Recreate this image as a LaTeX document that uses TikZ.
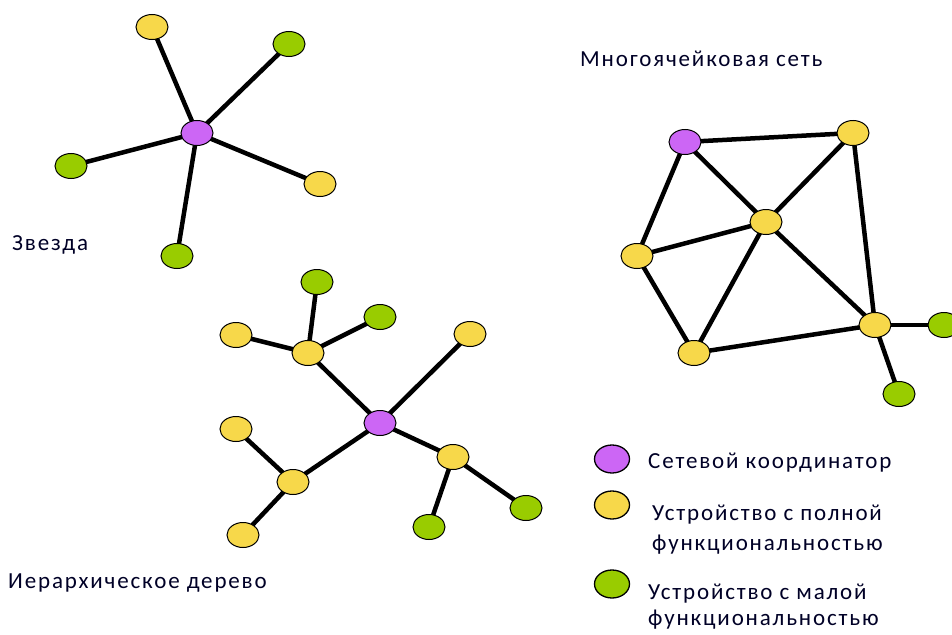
\documentclass[tikz,border=0pt]{standalone}
\usepackage{fontspec}
\setmainfont{Carlito}
\usetikzlibrary{shapes.geometric,backgrounds}
\definecolor{coord}{HTML}{CC66F5}
\definecolor{full}{HTML}{F7D84A}
\definecolor{small}{HTML}{99CC00}
\tikzset{
  dev/.style={ellipse,draw=black,line width=1pt,minimum width=32pt,minimum height=25pt,inner sep=0pt},
  pc/.style={dev,fill=coord},
  yc/.style={dev,fill=full},
  gc/.style={dev,fill=small},
  lg/.style={dev,minimum width=35pt,minimum height=28pt,line width=1.3pt},
  link/.style={line width=4.5pt,black},
  lbl/.style={font=\fontsize{23}{29}\selectfont\addfontfeature{LetterSpace=8},inner sep=0pt,anchor=west,text=black!85!blue}
}
\begin{document}
\begin{tikzpicture}[x=1pt,y=-1pt]
\useasboundingbox (0,0) rectangle (952,634);
\clip (0,0) rectangle (952,634);
% Star
\node[pc] (s0) at (197,133) {};
\node[yc] (s1) at (152,27) {};
\node[gc] (s2) at (289,44) {};
\node[gc] (s3) at (71,166) {};
\node[yc] (s4) at (320,184) {};
\node[gc] (s5) at (177,256) {};
\node[lbl] (lstar) at (12,245) {Звезда};
% Mesh
\node[pc] (m1) at (685,142) {};
\node[yc] (m2) at (853,133) {};
\node[yc] (m3) at (766,222) {};
\node[yc] (m4) at (637,256) {};
\node[yc] (m5) at (694,353) {};
\node[yc] (m6) at (875,325) {};
\node[gc] (m7) at (944,325) {};
\node[gc] (m8) at (899,394) {};
\node[lbl] (lmesh) at (580,59) {Многоячейковая сеть};
% Tree
\node[pc] (t0) at (380,423) {};
\node[yc] (h1) at (308,353) {};
\node[gc] (t1) at (317,282) {};
\node[gc] (t2) at (380,317) {};
\node[yc] (t3) at (236,335) {};
\node[yc] (t4) at (470,334) {};
\node[yc] (h2) at (293,482) {};
\node[yc] (t5) at (236,429) {};
\node[yc] (t6) at (243,535) {};
\node[yc] (h3) at (453,457) {};
\node[gc] (t7) at (429,527) {};
\node[gc] (t8) at (526,508) {};
\node[lbl] (ltree) at (8,583) {Иерархическое дерево};
% Legend
\node[pc,lg] (k1) at (612,459) {};
\node[yc,lg] (k2) at (612,505) {};
\node[gc,lg] (k3) at (612,584) {};
\node[lbl] (k1t) at (648,463) {Сетевой координатор};
\node[lbl,align=left,font=\fontsize{23}{30}\selectfont\addfontfeature{LetterSpace=8}] (k2t) at (652,530) {Устройство с полной\\функциональностью};
\node[lbl,align=left,font=\fontsize{23}{26}\selectfont\addfontfeature{LetterSpace=8}] (k3t) at (648,607) {Устройство с малой\\функциональностью};
\begin{scope}[on background layer]
\foreach \a/\b in {s0/s1,s0/s2,s0/s3,s0/s4,s0/s5,
  m1/m2,m1/m3,m1/m4,m2/m3,m2/m6,m3/m4,m3/m5,m3/m6,m4/m5,m5/m6,m6/m7,m6/m8,
  h1/t1,h1/t2,h1/t3,h1/t0,t0/t4,t0/h2,t0/h3,h2/t5,h2/t6,h3/t7,h3/t8}
  \draw[link] (\a.center) -- (\b.center);
\end{scope}
\end{tikzpicture}
\end{document}
